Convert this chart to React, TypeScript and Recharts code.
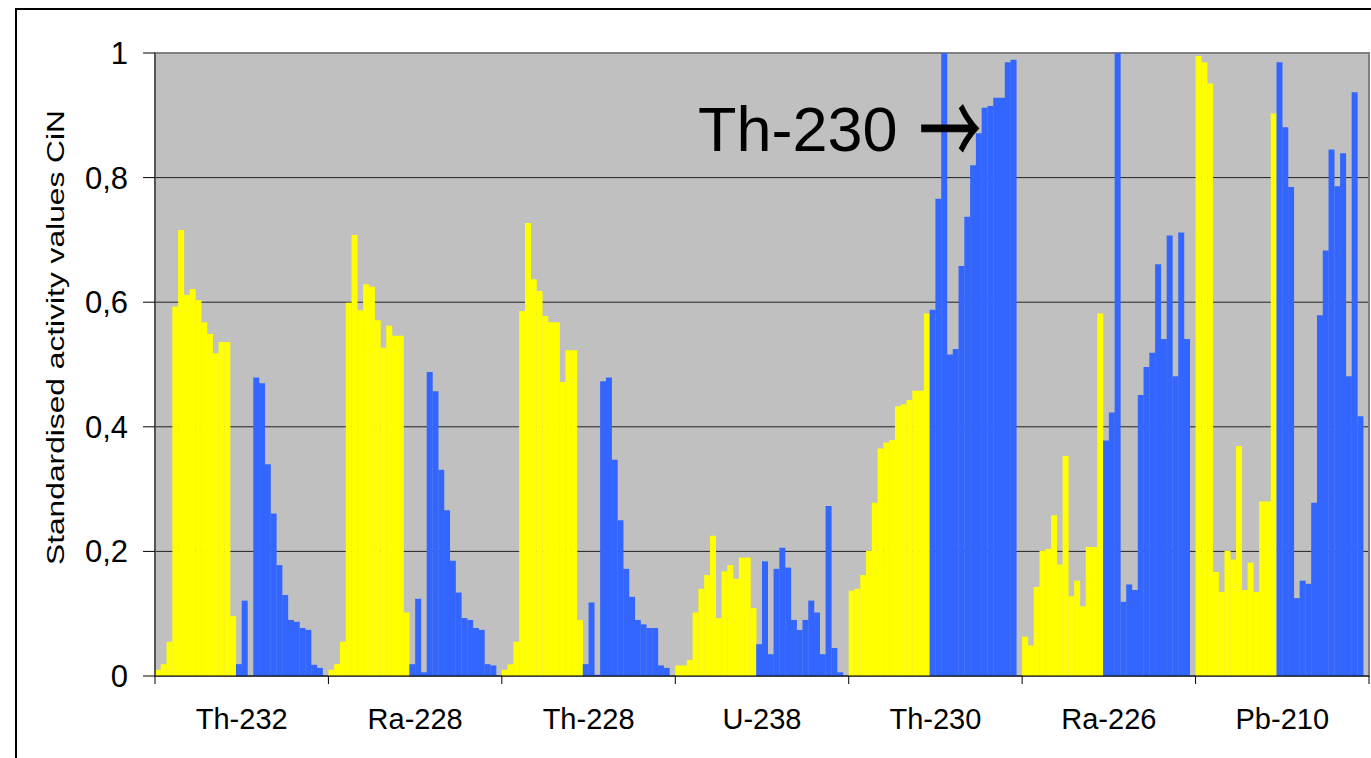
import { BarChart, Bar, XAxis, YAxis, CartesianGrid, ReferenceArea } from "recharts";

const groups = ["Th-232", "Ra-228", "Th-228", "U-238", "Th-230", "Ra-226", "Pb-210"];

// per nuclide: 14 yellow samples, then 15 blue samples, then one empty slot
const yellowTh232 = [0.01, 0.019, 0.055, 0.593, 0.716, 0.612, 0.621, 0.603, 0.568, 0.549, 0.518, 0.536, 0.536, 0.096];
const blueTh232 = [0.019, 0.121, 0, 0.479, 0.47, 0.34, 0.261, 0.178, 0.13, 0.09, 0.087, 0.077, 0.074, 0.018, 0.013];

const yellowRa228 = [0.01, 0.019, 0.055, 0.599, 0.708, 0.587, 0.629, 0.625, 0.571, 0.527, 0.562, 0.546, 0.546, 0.102];
const blueRa228 = [0.019, 0.124, 0.006, 0.488, 0.457, 0.331, 0.266, 0.185, 0.134, 0.093, 0.09, 0.077, 0.074, 0.019, 0.017];

const yellowTh228 = [0.01, 0.019, 0.055, 0.586, 0.727, 0.637, 0.618, 0.578, 0.568, 0.568, 0.472, 0.523, 0.523, 0.09];
const blueTh228 = [0.019, 0.118, 0.002, 0.473, 0.479, 0.347, 0.25, 0.172, 0.127, 0.09, 0.083, 0.077, 0.077, 0.017, 0.013];

const yellowU238 = [0.017, 0.017, 0.026, 0.102, 0.14, 0.162, 0.225, 0.093, 0.168, 0.178, 0.156, 0.19, 0.19, 0.109];
const blueU238 = [0.051, 0.184, 0.035, 0.172, 0.206, 0.174, 0.09, 0.074, 0.09, 0.121, 0.102, 0.035, 0.273, 0.045, 0.006];

const yellowTh230 = [0.137, 0.14, 0.162, 0.201, 0.278, 0.365, 0.375, 0.379, 0.433, 0.436, 0.443, 0.458, 0.458, 0.582];
const blueTh230 = [0.588, 0.766, 1.0, 0.516, 0.525, 0.658, 0.737, 0.82, 0.871, 0.912, 0.915, 0.928, 0.928, 0.985, 0.989];

const yellowRa226 = [0.063, 0.049, 0.143, 0.201, 0.204, 0.258, 0.179, 0.353, 0.128, 0.153, 0.112, 0.207, 0.207, 0.582];
const blueRa226 = [0.378, 0.423, 1.0, 0.119, 0.147, 0.138, 0.451, 0.496, 0.519, 0.661, 0.541, 0.707, 0.481, 0.712, 0.541];

const yellowPb210 = [0.995, 0.985, 0.951, 0.167, 0.135, 0.201, 0.187, 0.369, 0.138, 0.182, 0.135, 0.28, 0.28, 0.903];
const bluePb210 = [0.985, 0.881, 0.785, 0.125, 0.153, 0.148, 0.278, 0.579, 0.683, 0.845, 0.786, 0.839, 0.481, 0.937, 0.417];

const yellowSets = [yellowTh232, yellowRa228, yellowTh228, yellowU238, yellowTh230, yellowRa226, yellowPb210];
const blueSets = [blueTh232, blueRa228, blueTh228, blueU238, blueTh230, blueRa226, bluePb210];

const yTicks = [0, 0.2, 0.4, 0.6, 0.8, 1];
const slotsPerGroup = 30;
const totalSlots = groups.length * slotsPerGroup;
const boundaryTicks = groups.map((_, i) => i * slotsPerGroup).concat(totalSlots);
const labelTicks = groups.map((_, i) => i * slotsPerGroup + slotsPerGroup / 2);

const data: { i: number; yellow: number; blue: number }[] = [];
groups.forEach((_, g) => {
  yellowSets[g].forEach((v) => data.push({ i: data.length, yellow: v, blue: 0 }));
  blueSets[g].forEach((v) => data.push({ i: data.length, yellow: 0, blue: v }));
  data.push({ i: data.length, yellow: 0, blue: 0 });
});

const font = "'Liberation Sans', Arial, sans-serif";

const App = () => {
  return (
    <div
      style={{
        position: "fixed",
        left: 0,
        top: 0,
        width: 1371,
        height: 758,
        overflow: "hidden",
        background: "#fff",
        fontFamily: font,
      }}
    >
      <div
        style={{
          position: "absolute",
          left: 15,
          top: 8,
          width: 1400,
          height: 800,
          borderLeft: "2px solid #000",
          borderTop: "2px solid #000",
        }}
      />
      <div style={{ position: "absolute", left: 0, top: 0 }}>
        <BarChart
          width={1371}
          height={758}
          data={data}
          margin={{ top: 53, right: 2, bottom: 0, left: 55 }}
          barCategoryGap={0}
          barGap={0}
        >
          <CartesianGrid xAxisId="cat" vertical={false} fill="#C0C0C0" fillOpacity={1} stroke="#222" />
          <XAxis xAxisId="cat" dataKey="i" type="category" hide />
          <XAxis
            xAxisId="bound"
            dataKey="i"
            type="number"
            domain={[0, totalSlots]}
            ticks={boundaryTicks}
            interval={0}
            tickSize={8}
            tickLine={{ stroke: "#000" }}
            axisLine={{ stroke: "#000" }}
            tickFormatter={() => ""}
            height={1}
          />
          <XAxis
            xAxisId="lab"
            dataKey="i"
            type="number"
            domain={[0, totalSlots]}
            ticks={labelTicks}
            interval={0}
            tickFormatter={(v: number) => groups[Math.round((v - slotsPerGroup / 2) / slotsPerGroup)]}
            tickLine={false}
            axisLine={false}
            tickSize={0}
            tickMargin={1}
            height={81}
            tick={{ fontSize: 29, fill: "#000", fontFamily: font }}
          />
          <YAxis
            width={100}
            domain={[0, 1]}
            ticks={yTicks}
            interval={0}
            tickSize={12}
            tickMargin={15}
            tickLine={{ stroke: "#000" }}
            axisLine={{ stroke: "#555", strokeWidth: 2 }}
            tickFormatter={(v: number) => String(v).replace(".", ",")}
            tick={{ fontSize: 31, fill: "#000", fontFamily: font }}
          />
          <ReferenceArea xAxisId="cat" y1={0} y2={1} fill="none" stroke="#808080" strokeWidth={2} />
          <Bar xAxisId="cat" dataKey="yellow" stackId="s" fill="#FFFF00" isAnimationActive={false} />
          <Bar xAxisId="cat" dataKey="blue" stackId="s" fill="#3366FF" isAnimationActive={false} />
        </BarChart>
      </div>
      <svg
        width={1371}
        height={758}
        style={{ position: "absolute", left: 0, top: 0, pointerEvents: "none" }}
      >
        <text
          transform="rotate(-90)"
          x={-565}
          y={64}
          fontSize={23}
          fontFamily={font}
          fill="#000"
          textLength={455}
          lengthAdjust="spacingAndGlyphs"
        >
          Standardised activity values CiN
        </text>
        <text x={698} y={151} fontSize={63} fontFamily={font} fill="#000">
          Th-230
        </text>
        <text
          x={919}
          y={166}
          fontSize={100}
          fontFamily="'Noto Sans CJK JP', 'DejaVu Sans', sans-serif"
          fill="#000"
          stroke="#000"
          strokeWidth={1}
          textLength={62}
          lengthAdjust="spacingAndGlyphs"
        >
          →
        </text>
      </svg>
    </div>
  );
};

export default App;
